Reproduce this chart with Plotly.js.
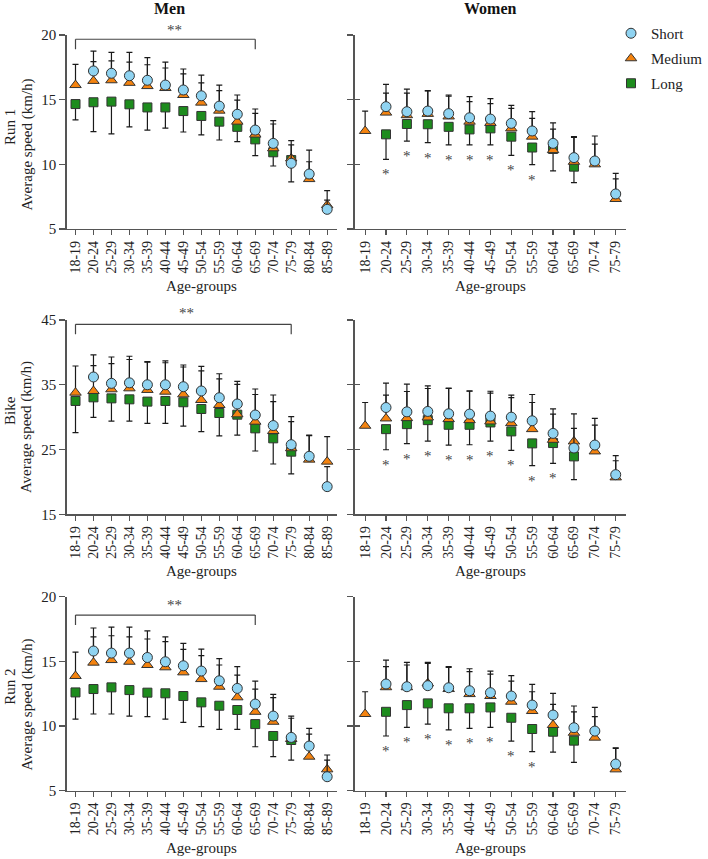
<!DOCTYPE html>
<html>
<head>
<meta charset="utf-8">
<script src="https://cdn.plot.ly/plotly-3.0.1.min.js"></script>
<style>html,body{margin:0;padding:0;background:#fff;}#chart{width:708px;height:859px;}</style>
</head>
<body>
<div id="chart"></div>
<script>
// ---------- categories / tick labels ----------
const menAges   = ['18-19','20-24','25-29','30-34','35-39','40-44','45-49','50-54','55-59','60-64','65-69','70-74','75-79','80-84','85-89'];
const womenAges = ['18-19','20-24','25-29','30-34','35-39','40-44','45-49','50-54','55-59','60-64','65-69','70-74','75-79'];
const seriesNames = ['Short','Medium','Long'];

// ---------- Run 1, men ----------
const menRun1Short     = [null,17.22,17.04,16.85,16.50,16.13,15.75,15.30,14.50,13.87,12.65,11.62,10.08,9.25,6.52];
const menRun1ShortSD   = [null,1.54,1.62,1.81,1.75,1.77,1.62,1.60,1.63,1.49,1.63,1.76,1.75,1.85,1.44];
const menRun1Medium    = [16.13,16.45,16.50,16.30,16.05,15.90,15.36,14.77,14.15,13.30,12.30,11.24,10.45,8.86,6.85];
const menRun1MediumSD  = [1.60,1.49,1.50,1.60,1.65,1.55,1.64,1.53,1.55,1.67,1.64,1.88,1.05,1.34,0.39];
const menRun1Long      = [14.66,14.80,14.85,14.64,14.40,14.40,14.12,13.74,13.30,12.90,11.93,10.93,10.33,null,null];
const menRun1LongSD    = [1.23,2.27,2.50,1.74,1.75,1.60,1.62,1.47,1.42,1.15,1.26,1.06,1.68,null,null];
// ---------- Run 1, women ----------
const womenRun1Short    = [null,14.46,14.07,14.12,13.92,13.60,13.50,13.17,12.58,11.62,10.52,10.26,7.71];
const womenRun1ShortSD  = [null,1.73,1.75,1.58,1.44,1.63,1.58,1.39,1.49,1.58,1.62,1.93,1.59];
const womenRun1Medium   = [12.58,14.00,13.80,13.90,13.70,13.30,13.20,12.78,12.14,11.10,10.20,10.00,7.32];
const womenRun1MediumSD = [1.54,1.50,1.70,1.77,1.58,1.55,1.50,1.55,1.42,1.63,1.89,1.57,1.55];
const womenRun1Long     = [null,12.32,13.12,13.10,12.90,12.70,12.78,12.14,11.30,11.19,9.82,null,null];
const womenRun1LongSD   = [null,1.93,1.32,1.42,1.40,1.20,1.28,1.44,1.33,1.69,1.24,null,null];
const womenRun1Stars    = [0,1,1,1,1,1,1,1,1,0,0,0,0];
// ---------- Bike, men ----------
const menBikeShort     = [null,36.20,35.22,35.30,35.00,35.00,34.70,34.04,33.00,32.03,30.33,28.70,25.75,23.95,19.27];
const menBikeShortSD   = [null,3.40,4.07,4.10,3.57,3.70,3.35,3.81,3.70,3.50,4.02,4.72,4.32,3.29,3.08];
const menBikeMedium    = [33.78,34.04,34.30,34.45,34.20,33.93,33.52,32.65,31.88,30.43,29.30,27.86,25.20,23.44,23.13];
const menBikeMediumSD  = [4.12,3.91,3.96,4.45,4.30,4.47,4.22,4.48,4.02,4.64,4.20,4.54,4.10,3.70,3.86];
const menBikeLong      = [32.50,33.06,32.90,32.75,32.40,32.50,32.30,31.26,30.64,30.38,28.27,26.73,24.67,null,null];
const menBikeLongSD    = [4.90,3.09,3.50,3.35,3.35,3.45,3.70,3.50,3.54,3.14,3.50,3.96,3.44,null,null];
// ---------- Bike, women ----------
const womenBikeShort    = [null,31.49,30.82,30.88,30.52,30.47,30.16,30.00,29.44,27.49,25.23,25.69,21.12];
const womenBikeShortSD  = [null,3.75,4.27,3.95,3.95,3.59,3.84,3.40,4.06,3.80,3.03,4.11,2.93];
const womenBikeMedium   = [28.67,29.80,29.85,29.95,29.70,29.54,29.34,29.08,28.15,26.50,26.25,24.71,20.70];
const womenBikeMediumSD = [3.59,3.60,4.11,4.47,4.72,4.46,4.36,3.95,4.11,3.97,4.25,4.06,2.57];
const womenBikeLong     = [null,28.15,28.92,29.54,28.82,28.82,29.18,27.80,25.95,26.00,23.94,null,null];
const womenBikeLongSD   = [null,3.18,3.02,3.24,3.13,3.08,2.88,2.93,3.45,3.14,3.59,null,null];
const womenBikeStars    = [0,1,1,1,1,1,1,1,1,1,0,0,0];
// ---------- Run 2, men ----------
const menRun2Short     = [null,15.80,15.64,15.64,15.30,14.97,14.66,14.25,13.50,12.91,11.70,10.77,9.12,8.45,6.08];
const menRun2ShortSD   = [null,1.78,2.01,2.01,2.05,1.93,1.73,1.70,1.71,1.68,1.78,1.68,1.65,1.37,1.68];
const menRun2Medium    = [13.87,14.90,15.10,14.97,14.72,14.54,14.15,13.63,13.04,12.22,11.10,10.33,9.00,7.63,6.65];
const menRun2MediumSD  = [1.85,2.00,1.88,1.93,2.01,1.98,1.78,1.81,1.68,1.72,1.76,1.87,1.60,1.75,0.72];
const menRun2Long      = [12.60,12.86,12.99,12.78,12.58,12.53,12.32,11.83,11.57,11.24,10.15,9.23,8.92,null,null];
const menRun2LongSD    = [2.06,1.93,2.06,2.01,1.86,1.99,2.04,1.88,1.83,1.50,1.75,1.60,1.55,null,null];
// ---------- Run 2, women ----------
const womenRun2Short    = [null,13.25,13.04,13.12,12.96,12.73,12.58,12.32,11.62,10.85,9.87,9.61,7.06];
const womenRun2ShortSD  = [null,1.85,1.88,1.80,1.63,1.70,1.67,1.58,1.60,1.68,1.68,1.83,1.26];
const womenRun2Medium   = [10.93,13.00,13.00,13.30,12.86,12.47,12.32,11.88,11.16,10.08,9.48,9.10,6.65];
const womenRun2MediumSD = [1.72,1.59,1.72,1.55,1.68,1.73,1.70,1.60,1.49,1.60,1.62,1.62,1.62];
const womenRun2Long     = [null,11.10,11.62,11.75,11.37,11.37,11.44,10.64,9.77,9.56,8.87,null,null];
const womenRun2LongSD   = [null,1.87,1.72,1.60,1.67,1.55,1.54,1.80,1.75,1.57,1.68,null,null];
const womenRun2Stars    = [0,1,1,1,1,1,1,1,1,0,0,0,0];

// ---------- axis tick values ----------
const runTicks  = [5,10,15,20];
const bikeTicks = [15,25,35,45];
const rowLabels = ['Run 1','Bike','Run 2'];
const colLabels = ['Men','Women'];
// significance brackets (men panels): first/last group, level
const bracketEnds  = [['18-19','65-69'],['18-19','75-79'],['18-19','65-69']];
const bracketLevel = [19.67, 44.33, 18.58];
const bracketDrop  = [0.77, 1.53, 0.77];

// ---------- styles ----------
const FONT = 'Liberation Serif';
const W = 708, H = 859;
const styles = {
  Short:  {symbol:'circle', size:10, color:'#8fd3f1', rank:1},
  Medium: {symbol:'triangle-up', size:10, color:'#f4830f', rank:2},
  Long:   {symbol:'square', size:9, color:'#1d8c1d', rank:3}
};
const AX = '#555';

// panel geometry in pixels
const colX = [[66.7,338.0],[355.7,627.3]];
const rowY = [[35,229],[320,514.3],[596.7,790.7]];

const panels = [
  {row:0,col:0,x:menAges,  s:[menRun1Short,menRun1ShortSD],m:[menRun1Medium,menRun1MediumSD],l:[menRun1Long,menRun1LongSD],stars:null},
  {row:0,col:1,x:womenAges,s:[womenRun1Short,womenRun1ShortSD],m:[womenRun1Medium,womenRun1MediumSD],l:[womenRun1Long,womenRun1LongSD],stars:womenRun1Stars},
  {row:1,col:0,x:menAges,  s:[menBikeShort,menBikeShortSD],m:[menBikeMedium,menBikeMediumSD],l:[menBikeLong,menBikeLongSD],stars:null},
  {row:1,col:1,x:womenAges,s:[womenBikeShort,womenBikeShortSD],m:[womenBikeMedium,womenBikeMediumSD],l:[womenBikeLong,womenBikeLongSD],stars:womenBikeStars},
  {row:2,col:0,x:menAges,  s:[menRun2Short,menRun2ShortSD],m:[menRun2Medium,menRun2MediumSD],l:[menRun2Long,menRun2LongSD],stars:null},
  {row:2,col:1,x:womenAges,s:[womenRun2Short,womenRun2ShortSD],m:[womenRun2Medium,womenRun2MediumSD],l:[womenRun2Long,womenRun2LongSD],stars:womenRun2Stars}
];

const traces = [];
const layout = {
  width:W, height:H, margin:{l:0,r:0,t:0,b:0},
  paper_bgcolor:'#fff', plot_bgcolor:'rgba(0,0,0,0)',
  font:{family:FONT, size:13, color:'#222'},
  showlegend:true,
  legend:{x:613/W, y:1-17/H, xanchor:'left', yanchor:'top', traceorder:'grouped', tracegroupgap:2.5,
          font:{family:FONT,size:15,color:'#222'}, bgcolor:'rgba(0,0,0,0)'},
  annotations:[], shapes:[]
};

function zeros(a){ return a.map(v => v==null ? null : 0); }

panels.forEach((p, i) => {
  const n = i+1;
  const xa = 'x'+(n===1?'':n), ya = 'y'+(n===1?'':n);
  const xk = 'xaxis'+(n===1?'':n), yk = 'yaxis'+(n===1?'':n);
  const isBike = p.row===1;
  const ticks = isBike ? bikeTicks : runTicks;
  const yr = [ticks[0], ticks[ticks.length-1]];
  const series = [['Long',p.l,'down'],['Medium',p.m,'up'],['Short',p.s,'up']];
  series.forEach(([name,[vals,sd],dir]) => {
    const st = styles[name];
    traces.push({
      type:'scatter', mode:'markers', x:p.x, y:vals, xaxis:xa, yaxis:ya, name:name,
      legendgroup:name, legendrank:st.rank, showlegend:(i===0),
      cliponaxis:false,
      marker:{symbol:st.symbol, size:st.size, color:st.color, line:{color:'#333',width:1}},
      error_y:{type:'data', symmetric:false,
               array: dir==='up' ? sd : zeros(sd),
               arrayminus: dir==='down' ? sd : zeros(sd),
               color:'#1a1a1a', thickness:1.2, width:3}
    });
  });
  const [x0,x1] = colX[p.col], [yt,yb] = rowY[p.row];
  const right = p.col===0 ? 14.55 : 12.47;
  layout[xk] = {domain:[x0/W, x1/W], anchor:ya, type:'category', categoryarray:p.x, range:[-0.5,right],
    showgrid:false, zeroline:false, showline:true, linecolor:AX, linewidth:1.3,
    ticks:'outside', ticklen:5, tickwidth:1.2, tickcolor:AX, tickangle:-90,
    tickfont:{family:FONT,size:14,color:'#222'}, fixedrange:true};
  layout[yk] = {domain:[1-yb/H, 1-yt/H], anchor:xa, range:yr, tickvals:ticks,
    showgrid:false, zeroline:false, showline:true, linecolor:AX, linewidth:1.3,
    ticks:'outside', ticklen:6, tickwidth:1.2, tickcolor:AX,
    showticklabels:p.col===0, tickfont:{family:FONT,size:15,color:'#222'}, fixedrange:true};
  if (p.col===1) {
    const on = 6 + n; // overlay axis for inward tick halves
    layout['yaxis'+on] = {overlaying:ya, anchor:xa, range:yr, tickvals:ticks, showgrid:false, zeroline:false,
      showline:false, ticks:'inside', ticklen:5, tickwidth:1.2, tickcolor:AX, showticklabels:false, fixedrange:true};
    traces.push({type:'scatter', mode:'markers', x:[p.x[0]], y:[null], xaxis:xa, yaxis:'y'+on, showlegend:false, hoverinfo:'skip'});
  }
  // x-axis title
  layout.annotations.push({xref:'paper', yref:'paper', x:((x0+x1)/2)/W, y:1-(yb+57)/H, text:'Age-groups',
    showarrow:false, xanchor:'center', yanchor:'middle', font:{family:FONT,size:15,color:'#222'}});
  // stars
  if (p.stars) {
    p.stars.forEach((s,k) => {
      if (!s) return;
      layout.annotations.push({xref:xa, yref:ya, x:p.x[k], y:p.l[0][k]-p.l[1][k], text:'*', showarrow:false,
        xanchor:'center', yanchor:'middle', yshift:-15, font:{family:FONT,size:15,color:'#444'}});
    });
  }
  // bracket for men panels
  if (p.col===0) {
    const [a,b] = bracketEnds[p.row], lv = bracketLevel[p.row], dr = bracketDrop[p.row];
    const ln = {color:'#444', width:1.2};
    layout.shapes.push({type:'line', xref:xa, yref:ya, x0:a, x1:b, y0:lv, y1:lv, line:ln});
    layout.shapes.push({type:'line', xref:xa, yref:ya, x0:a, x1:a, y0:lv, y1:lv-dr, line:ln});
    layout.shapes.push({type:'line', xref:xa, yref:ya, x0:b, x1:b, y0:lv, y1:lv-dr, line:ln});
  }
});

// "**" labels above brackets (pixel positions)
const starStarPos = [[175,29.5],[186.7,313],[175,605]];
starStarPos.forEach(([px,py]) => layout.annotations.push({xref:'paper',yref:'paper',x:px/W,y:1-py/H,text:'**',
  showarrow:false,xanchor:'center',yanchor:'middle',font:{family:FONT,size:15,color:'#444'}}));

// row (y) titles
const rowTitleY = [[127,145],[410,427.5],[686.7,705]];
rowLabels.forEach((lab,r) => {
  layout.annotations.push({xref:'paper',yref:'paper',x:10/W,y:1-rowTitleY[r][0]/H,text:lab,textangle:-90,
    showarrow:false,xanchor:'center',yanchor:'middle',font:{family:FONT,size:15,color:'#222'}});
  layout.annotations.push({xref:'paper',yref:'paper',x:26.7/W,y:1-rowTitleY[r][1]/H,text:'Average speed (km/h)',textangle:-90,
    showarrow:false,xanchor:'center',yanchor:'middle',font:{family:FONT,size:15,color:'#222'}});
});
// column titles
const colTitleX = [170, 491.7];
colLabels.forEach((lab,c) => layout.annotations.push({xref:'paper',yref:'paper',x:colTitleX[c]/W,y:1-8/H,text:'<b>'+lab+'</b>',
  showarrow:false,xanchor:'center',yanchor:'middle',font:{family:FONT,size:16,color:'#111'}}));

Plotly.newPlot('chart', traces, layout, {staticPlot:true, displayModeBar:false});
</script>
</body>
</html>
